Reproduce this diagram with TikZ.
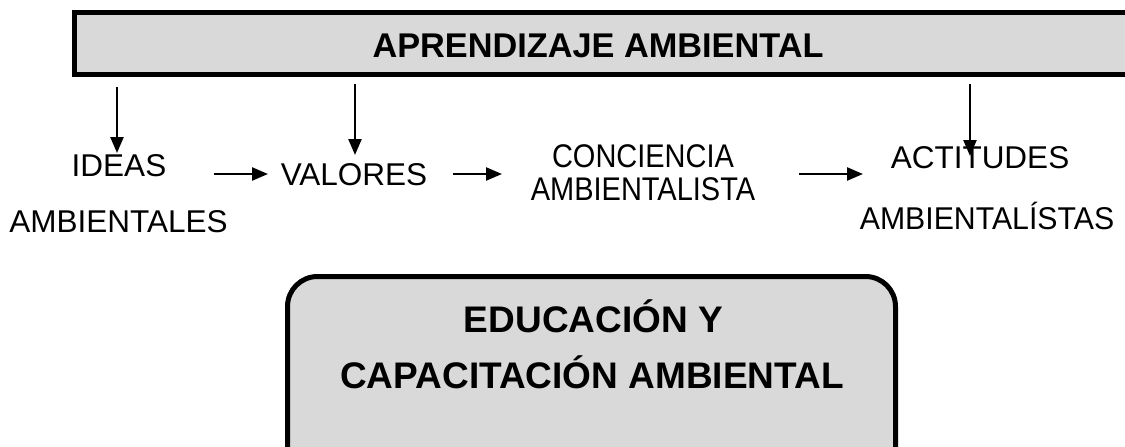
\documentclass[tikz,border=0pt]{standalone}
\usepackage{fontspec}
\setmainfont{Liberation Sans}
\usetikzlibrary{arrows.meta}
\definecolor{boxgray}{HTML}{D9D9D9}
\tikzset{
  arr/.style={-{Triangle[length=16pt,width=13pt]}, line width=2.4pt},
  plain/.style={inner sep=0pt, outer sep=0pt, anchor=base, font=\fontsize{31.5}{36}\selectfont},
  bigbold/.style={inner sep=0pt, outer sep=0pt, anchor=base, font=\fontsize{37}{40}\selectfont\bfseries},
  titlebold/.style={inner sep=0pt, outer sep=0pt, anchor=base, font=\fontsize{34.3}{38}\selectfont\bfseries},
  panel/.style={draw, line width=5pt, fill=boxgray, inner sep=0pt, outer sep=0pt, anchor=north west}
}
\begin{document}
\begin{tikzpicture}[x=1pt,y=-1pt]
\useasboundingbox (0,0) rectangle (1125,447);
% top bar
\node[panel, minimum width=1070pt, minimum height=62pt] (bar) at (74.5,12.5) {};
\node[titlebold] (title) at (598,57) {APRENDIZAJE AMBIENTAL};
% bottom box
\node[panel, rounded corners=30pt, minimum width=608pt, minimum height=220pt] (edu) at (287.5,276.5) {};
\node[bigbold] (edu1) at (593.5,332) {EDUCACIÓN Y};
\node[bigbold] (edu2) at (592,388) {CAPACITACIÓN AMBIENTAL};
% texts
\node[plain] (ideas) at (119,176) {IDEAS};
\node[plain] (ideas2) at (118.5,232) {AMBIENTALES};
\node[plain] (valores) at (354,185) {VALORES};
\node[plain] (conc) at (643,167) {\scalebox{0.92}[1.04]{CONCIENCIA}};
\node[plain] (conc2) at (643,200) {\scalebox{0.92}[1.04]{AMBIENTALISTA}};
\node[plain] (act) at (980,168) {ACTITUDES};
\node[plain] (act2) at (987,229) {\scalebox{0.96}[1]{AMBIENTALÍSTAS}};
% arrow ends
\coordinate (d1s) at (117,87);  \coordinate (d1e) at (117,153);
\coordinate (d2s) at (355,84);  \coordinate (d2e) at (355,155);
\coordinate (d3s) at (970,84);  \coordinate (d3e) at (970,156);
\coordinate (h1s) at (214,174); \coordinate (h1e) at (268,174);
\coordinate (h2s) at (453,174); \coordinate (h2e) at (502,174);
\coordinate (h3s) at (799,174); \coordinate (h3e) at (863,174);
\draw[arr] (d1s) -- (d1e);
\draw[arr] (d2s) -- (d2e);
\draw[arr] (d3s) -- (d3e);
\draw[arr] (h1s) -- (h1e);
\draw[arr] (h2s) -- (h2e);
\draw[arr] (h3s) -- (h3e);
\end{tikzpicture}
\end{document}
